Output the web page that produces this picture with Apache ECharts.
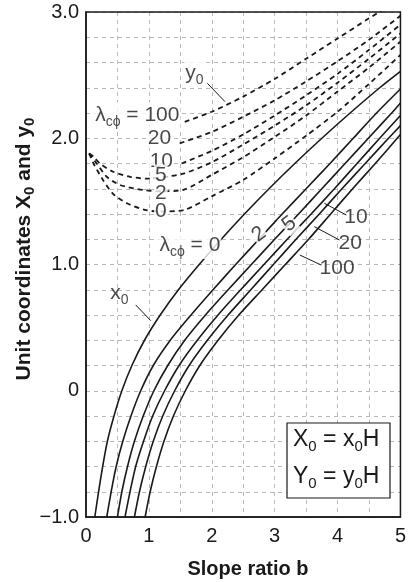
<!DOCTYPE html>
<html><head><meta charset="utf-8">
<script src="https://cdn.jsdelivr.net/npm/echarts/dist/echarts.min.js"></script>
<style>html,body{margin:0;padding:0;background:#fff}#c{width:409px;height:582px}</style>
</head><body><div id="c"></div>
<script>
const FONT = '"Liberation Sans", Arial, Helvetica, sans-serif';
const INK = '#1a1a1a';

// axis ticks
const xTicks = [0, 1, 2, 3, 4, 5];
const yTicks = [-1, 0, 1, 2, 3];

// x0 curves (solid), points [slope ratio b, x0]
const x0_lam0 = [[0.14,-1],[0.20,-0.8],[0.265,-0.6],[0.34,-0.4],[0.445,-0.2],[0.57,0],[0.73,0.2],[0.93,0.4],[1.18,0.6],[1.47,0.8],[1.80,1.0],[2.15,1.2],[2.52,1.4],[2.91,1.6],[3.32,1.8],[3.75,2.0],[4.20,2.2],[4.67,2.4],[5.0,2.53]];
const x0_lam2 = [[0.33,-1],[0.40,-0.8],[0.48,-0.6],[0.585,-0.4],[0.715,-0.2],[0.87,0],[1.07,0.2],[1.34,0.4],[1.67,0.6],[2.02,0.8],[2.38,1.0],[2.75,1.2],[3.12,1.4],[3.50,1.6],[3.88,1.8],[4.25,2.0],[4.62,2.2],[5.0,2.39]];
const x0_lam5 = [[0.50,-1],[0.57,-0.8],[0.66,-0.6],[0.77,-0.4],[0.91,-0.2],[1.08,0],[1.30,0.2],[1.57,0.4],[1.90,0.6],[2.26,0.8],[2.63,1.0],[3.00,1.2],[3.38,1.4],[3.75,1.6],[4.12,1.8],[4.49,2.0],[4.86,2.2],[5.0,2.28]];
const x0_lam10 = [[0.62,-1],[0.70,-0.8],[0.79,-0.6],[0.915,-0.4],[1.06,-0.2],[1.25,0],[1.48,0.2],[1.77,0.4],[2.10,0.6],[2.46,0.8],[2.83,1.0],[3.20,1.2],[3.58,1.4],[3.95,1.6],[4.31,1.8],[4.67,2.0],[5.0,2.18]];
const x0_lam20 = [[0.77,-1],[0.85,-0.8],[0.95,-0.6],[1.07,-0.4],[1.22,-0.2],[1.41,0],[1.64,0.2],[1.93,0.4],[2.26,0.6],[2.62,0.8],[2.98,1.0],[3.34,1.2],[3.71,1.4],[4.07,1.6],[4.44,1.8],[4.81,2.0],[5.0,2.10]];
const x0_lam100 = [[0.94,-1],[1.02,-0.8],[1.12,-0.6],[1.24,-0.4],[1.39,-0.2],[1.58,0],[1.81,0.2],[2.10,0.4],[2.43,0.6],[2.80,0.8],[3.17,1.0],[3.54,1.2],[3.89,1.4],[4.24,1.6],[4.60,1.8],[5.0,2.03]];

// y0 curves (dashed), points [slope ratio b, y0]
const y0_lam0 = [[0.05,1.88],[0.12,1.80],[0.27,1.67],[0.43,1.56],[0.65,1.485],[0.96,1.43],[1.2,1.42],[1.55,1.43],[2.0,1.54],[2.5,1.67],[3.0,1.84],[3.5,2.02],[4.0,2.21],[4.5,2.43],[5.0,2.66]];
const y0_lam2 = [[0.05,1.88],[0.17,1.80],[0.33,1.695],[0.54,1.63],[0.91,1.59],[1.2,1.58],[1.54,1.59],[2.0,1.71],[2.5,1.85],[3.0,2.01],[3.5,2.18],[4.0,2.37],[4.5,2.56],[5.0,2.765]];
const y0_lam5 = [[0.05,1.88],[0.12,1.855],[0.22,1.80],[0.43,1.735],[0.70,1.695],[0.96,1.68],[1.2,1.69],[1.55,1.72],[2.0,1.81],[2.5,1.95],[3.0,2.10],[3.5,2.26],[4.0,2.44],[4.5,2.63],[5.0,2.83]];
const y0_lam10 = [[1.52,1.80],[2.0,1.90],[2.5,2.03],[3.0,2.18],[3.5,2.34],[4.0,2.51],[4.5,2.70],[5.0,2.90]];
const y0_lam20 = [[1.49,1.96],[2.0,2.05],[2.5,2.17],[3.0,2.30],[3.5,2.45],[4.0,2.61],[4.5,2.78],[5.0,2.97]];
const y0_lam100 = [[1.57,2.13],[2.0,2.21],[2.5,2.33],[3.0,2.47],[3.5,2.63],[4.0,2.79],[4.5,2.95],[4.7,3.01]];

// curve labels (text, anchor in data coords)
const curveLabels = [
  {t:'{a|λ}{s|cϕ}{a| = 100}', at:[1.51,2.176], align:'right'},
  {t:'{a|20}', at:[1.175,2.0], align:'center'},
  {t:'{a|10}', at:[1.206,1.816], align:'center'},
  {t:'{a|5}', at:[1.198,1.705], align:'center'},
  {t:'{a|2}', at:[1.198,1.562], align:'center'},
  {t:'{a|0}', at:[1.198,1.416], align:'center'},
  {t:'{a|y}{s|0}', at:[1.73,2.51], align:'center'},
  {t:'{a|λ}{s|cϕ}{a| = 0}', at:[2.16,1.146], align:'right'},
  {t:'{a|2}', at:[2.76,1.234], align:'center', rot:38},
  {t:'{a|5}', at:[3.24,1.317], align:'center', rot:38},
  {t:'{a|10}', at:[4.30,1.368], align:'center', bg:false},
  {t:'{a|20}', at:[4.21,1.162], align:'center', bg:false},
  {t:'{a|100}', at:[4.00,0.964], align:'center', bg:false},
  {t:'{a|x}{s|0}', at:[0.54,0.766], align:'center', bg:false}
];
// annotation arrows [from, to] in data coords
const arrows = [
  [[1.93,2.435],[2.21,2.29]],
  [[0.79,0.68],[1.03,0.555]],
  [[4.14,1.392],[3.79,1.485]],
  [[4.03,1.194],[3.63,1.30]],
  [[3.74,0.996],[3.40,1.075]]
];

const rich = {
  a:{fontSize:21, fontFamily:FONT, color:INK},
  s:{fontSize:14, fontFamily:FONT, color:INK, padding:[13,0,0,0]}
};

function solid(data){
  return {type:'line', data, symbol:'none', smooth:0.25, z:3,
    lineStyle:{color:INK, width:1.6}, silent:true};
}
function dashed(data){
  return {type:'line', data, symbol:'none', smooth:0.25, z:3,
    lineStyle:{color:INK, width:1.8, type:[5,4]}, silent:true};
}

const gridLine = {show:true, lineStyle:{color:'#b8b8b8', width:1, type:[4,4]}};

const chart = echarts.init(document.getElementById('c'), null, {renderer:'canvas'});
const option = {
  animation:false,
  backgroundColor:'#fff',
  grid:{left:86, right:8, top:12, bottom:65, show:true, borderColor:INK, borderWidth:1.5, backgroundColor:'transparent', z:5},
  xAxis:{type:'value', min:xTicks[0], max:xTicks[xTicks.length-1], interval:1,
    axisLine:{show:true, onZero:false, lineStyle:{color:INK, width:1.5}}, axisTick:{show:false},
    axisLabel:{color:INK, fontSize:20, fontFamily:FONT, margin:9},
    splitLine:gridLine, minorTick:{show:false, splitNumber:2}, minorSplitLine:gridLine},
  yAxis:{type:'value', min:yTicks[0], max:yTicks[yTicks.length-1], interval:1,
    axisLine:{show:true, onZero:false, lineStyle:{color:INK, width:1.5}}, axisTick:{show:false},
    axisLabel:{color:INK, fontSize:20, fontFamily:FONT, margin:7,
      formatter:v => v === 0 ? '0' : (v < 0 ? '\u2212' + Math.abs(v).toFixed(1) : v.toFixed(1))},
    splitLine:gridLine, minorTick:{show:false, splitNumber:5}, minorSplitLine:gridLine},
  series:[
    solid(x0_lam0), solid(x0_lam2), solid(x0_lam5), solid(x0_lam10), solid(x0_lam20), solid(x0_lam100),
    dashed(y0_lam0), dashed(y0_lam2), dashed(y0_lam5), dashed(y0_lam10), dashed(y0_lam20), dashed(y0_lam100),
    {type:'scatter', z:10, silent:true, symbolSize:1, itemStyle:{color:'rgba(0,0,0,0)'},
      data: curveLabels.map(l => ({value:l.at, label:{show:true, position:[0,0], formatter:l.t,
        align:l.align, verticalAlign:'middle', rotate:l.rot || 0, rich,
        backgroundColor: l.bg === false ? 'transparent' : '#fff', padding:[0,1]}})),
      markLine:{silent:true, symbol:['none','arrow'], symbolSize:[0,7], animation:false,
        lineStyle:{color:INK, width:1, type:'solid'}, label:{show:false},
        data: arrows.map(a => [{coord:a[0]},{coord:a[1]}])}
    }
  ],
  graphic:[
    {type:'text', x:24, y:249, rotation:Math.PI/2, z:20,
      style:{text:'{a|Unit coordinates X}{s|0}{a| and y}{s|0}', align:'center', verticalAlign:'middle',
        rich:{a:{fontSize:21, fontWeight:'bold', fontFamily:FONT, fill:INK}, s:{fontSize:15, fontWeight:'bold', fontFamily:FONT, fill:INK, padding:[12,0,0,0]}}}},
    {type:'text', x:248, y:569, z:20,
      style:{text:'Slope ratio b', align:'center', verticalAlign:'middle', fontSize:20, fontWeight:'bold', fontFamily:FONT, fill:INK}},
    {type:'rect', z:20, shape:{x:287, y:423, width:103, height:75}, style:{fill:'#fff', stroke:INK, lineWidth:1.2}},
    {type:'text', x:293, y:440, z:21,
      style:{text:'{a|X}{s|0}{a| = x}{s|0}{a|H}', align:'left', verticalAlign:'middle',
        rich:{a:{fontSize:23, fontFamily:FONT, fill:INK}, s:{fontSize:15, fontFamily:FONT, fill:INK, padding:[14,0,0,0]}}}},
    {type:'text', x:293, y:477, z:21,
      style:{text:'{a|Y}{s|0}{a| = y}{s|0}{a|H}', align:'left', verticalAlign:'middle',
        rich:{a:{fontSize:23, fontFamily:FONT, fill:INK}, s:{fontSize:15, fontFamily:FONT, fill:INK, padding:[14,0,0,0]}}}}
  ]
};
chart.setOption(option);
</script>
</body></html>
